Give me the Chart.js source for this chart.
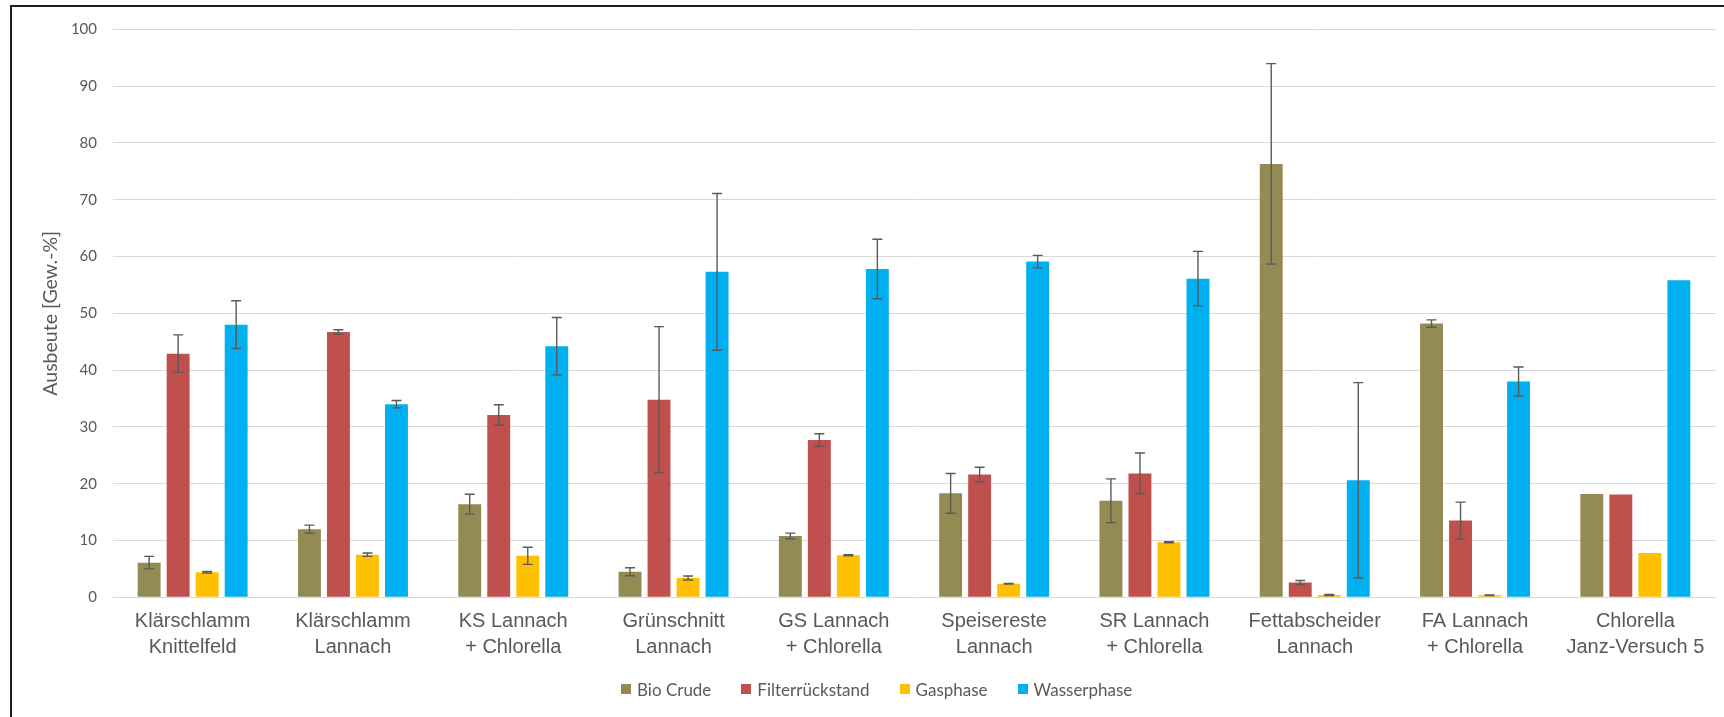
<!DOCTYPE html>
<html lang="de">
<head>
<meta charset="utf-8">
<title>Ausbeute der HTL-Fraktionen</title>
<script src="https://cdn.jsdelivr.net/npm/chart.js@4.4.1/dist/chart.umd.min.js"></script>
<style>
  html, body { margin: 0; padding: 0; background: #ffffff; overflow: hidden; }
  #wrap { position: relative; width: 1724px; height: 717px; overflow: hidden; }
  #chart { position: absolute; left: 0; top: 0; }
  #frame {
    position: absolute; left: 10px; top: 5px; width: 1760px; height: 760px;
    border: 2px solid #1e1e1e; box-sizing: border-box; pointer-events: none;
  }
  #legend {
    position: absolute; left: 621px; top: 679px; height: 20px;
    display: flex; align-items: center; gap: 30px;
    font-family: Lato, "Open Sans", sans-serif; font-size: 17px; color: #595959;
  }
  #legend .item { display: flex; align-items: center; white-space: nowrap; }
  #legend .box { width: 10px; height: 10px; margin-right: 6px; }
</style>
</head>
<body>
<div id="wrap">
  <canvas id="chart" width="1724" height="717"></canvas>
  <div id="frame"></div>
  <div id="legend"></div>
</div>
<script>
// Categories (two-line axis labels)
const categories = [
  ['Klärschlamm', 'Knittelfeld'],
  ['Klärschlamm', 'Lannach'],
  ['KS Lannach', '+ Chlorella'],
  ['Grünschnitt', 'Lannach'],
  ['GS Lannach', '+ Chlorella'],
  ['Speisereste', 'Lannach'],
  ['SR Lannach', '+ Chlorella'],
  ['Fettabscheider', 'Lannach'],
  ['FA Lannach', '+ Chlorella'],
  ['Chlorella', 'Janz-Versuch 5']
];

const seriesNames = ['Bio Crude', 'Filterrückstand', 'Gasphase', 'Wasserphase'];

// Yields in wt.-% and their standard deviations (null = no error bar)
const bioCrude        = [6.1, 12.0, 16.4, 4.5, 10.8, 18.3, 17.0, 76.3, 48.2, 18.2];
const bioCrudeErr     = [1.1, 0.7, 1.75, 0.7, 0.5, 3.5, 3.85, 17.65, 0.65, null];
const filterrueck     = [42.9, 46.7, 32.1, 34.8, 27.7, 21.6, 21.8, 2.6, 13.5, 18.1];
const filterrueckErr  = [3.3, 0.4, 1.8, 12.85, 1.1, 1.3, 3.6, 0.35, 3.25, null];
const gasphase        = [4.4, 7.5, 7.3, 3.4, 7.4, 2.4, 9.7, 0.4, 0.35, 7.8];
const gasphaseErr     = [0.15, 0.3, 1.5, 0.35, 0.1, 0.05, 0.1, 0.1, 0.05, null];
const wasserphase     = [48.0, 34.0, 44.2, 57.3, 57.8, 59.1, 56.1, 20.6, 38.0, 55.8];
const wasserphaseErr  = [4.2, 0.65, 5.05, 13.8, 5.25, 1.1, 4.8, 17.2, 2.55, null];

const yTicks = { min: 0, max: 100, step: 10 };

const colors = ['#948A54', '#C0504D', '#FFC000', '#00B0F0'];
const valueSets = [bioCrude, filterrueck, gasphase, wasserphase];
const errorSets = [bioCrudeErr, filterrueckErr, gasphaseErr, wasserphaseErr];

const datasets = seriesNames.map((name, i) => ({
  label: name,
  data: valueSets[i],
  errors: errorSets[i],
  backgroundColor: colors[i],
  borderWidth: 0,
  categoryPercentage: 0.724,
  barPercentage: 0.79
}));

// Draws symmetric error bars with caps on top of every bar
const errorBars = {
  id: 'errorBars',
  afterDatasetsDraw(chart) {
    const ctx = chart.ctx;
    const y = chart.scales.y;
    ctx.save();
    ctx.strokeStyle = '#5a5a5a';
    ctx.lineWidth = 1.4;
    chart.data.datasets.forEach((ds, i) => {
      const meta = chart.getDatasetMeta(i);
      meta.data.forEach((bar, j) => {
        const e = ds.errors[j];
        if (e == null) return;
        const v = ds.data[j];
        const yt = y.getPixelForValue(v + e);
        const yb = y.getPixelForValue(Math.max(v - e, 0));
        const cap = 5;
        ctx.beginPath();
        ctx.moveTo(bar.x, yt); ctx.lineTo(bar.x, yb);
        ctx.moveTo(bar.x - cap, yt); ctx.lineTo(bar.x + cap, yt);
        ctx.moveTo(bar.x - cap, yb); ctx.lineTo(bar.x + cap, yb);
        ctx.stroke();
      });
    });
    ctx.restore();
  }
};

new Chart(document.getElementById('chart'), {
  type: 'bar',
  data: { labels: categories, datasets },
  options: {
    responsive: false,
    animation: false,
    devicePixelRatio: 1,
    layout: { padding: { left: 0, right: 8.5, top: 29.3, bottom: 0 } },
    plugins: {
      legend: { display: false },
      tooltip: { enabled: false }
    },
    scales: {
      x: {
        grid: { display: false, drawTicks: false },
        border: { display: false },
        ticks: {
          color: '#595959',
          font: { family: '"Liberation Sans", Arial, sans-serif', size: 20, lineHeight: 1.3 },
          padding: 11,
          maxRotation: 0,
          autoSkip: false
        },
        afterFit(scale) { scale.height = 119.7; }
      },
      y: {
        min: yTicks.min,
        max: yTicks.max,
        ticks: {
          stepSize: yTicks.step,
          color: '#595959',
          font: { family: 'Lato, "Open Sans", sans-serif', size: 15 },
          padding: 15.5
        },
        grid: { color: '#d9d9d9', lineWidth: 1, drawTicks: false },
        border: { display: false },
        title: {
          display: true,
          text: 'Ausbeute [Gew.-%]',
          color: '#595959',
          font: { family: 'Lato, "Open Sans", sans-serif', size: 19.5, lineHeight: 1.2 },
          padding: { top: 39.3, bottom: 0 }
        },
        afterFit(scale) { scale.width = 112.5; }
      }
    }
  },
  plugins: [errorBars]
});

// HTML legend below the plot
const legend = document.getElementById('legend');
seriesNames.forEach((name, i) => {
  const item = document.createElement('div');
  item.className = 'item';
  const box = document.createElement('span');
  box.className = 'box';
  box.style.background = colors[i];
  const txt = document.createElement('span');
  txt.textContent = name;
  item.appendChild(box);
  item.appendChild(txt);
  legend.appendChild(item);
});
</script>
</body>
</html>
